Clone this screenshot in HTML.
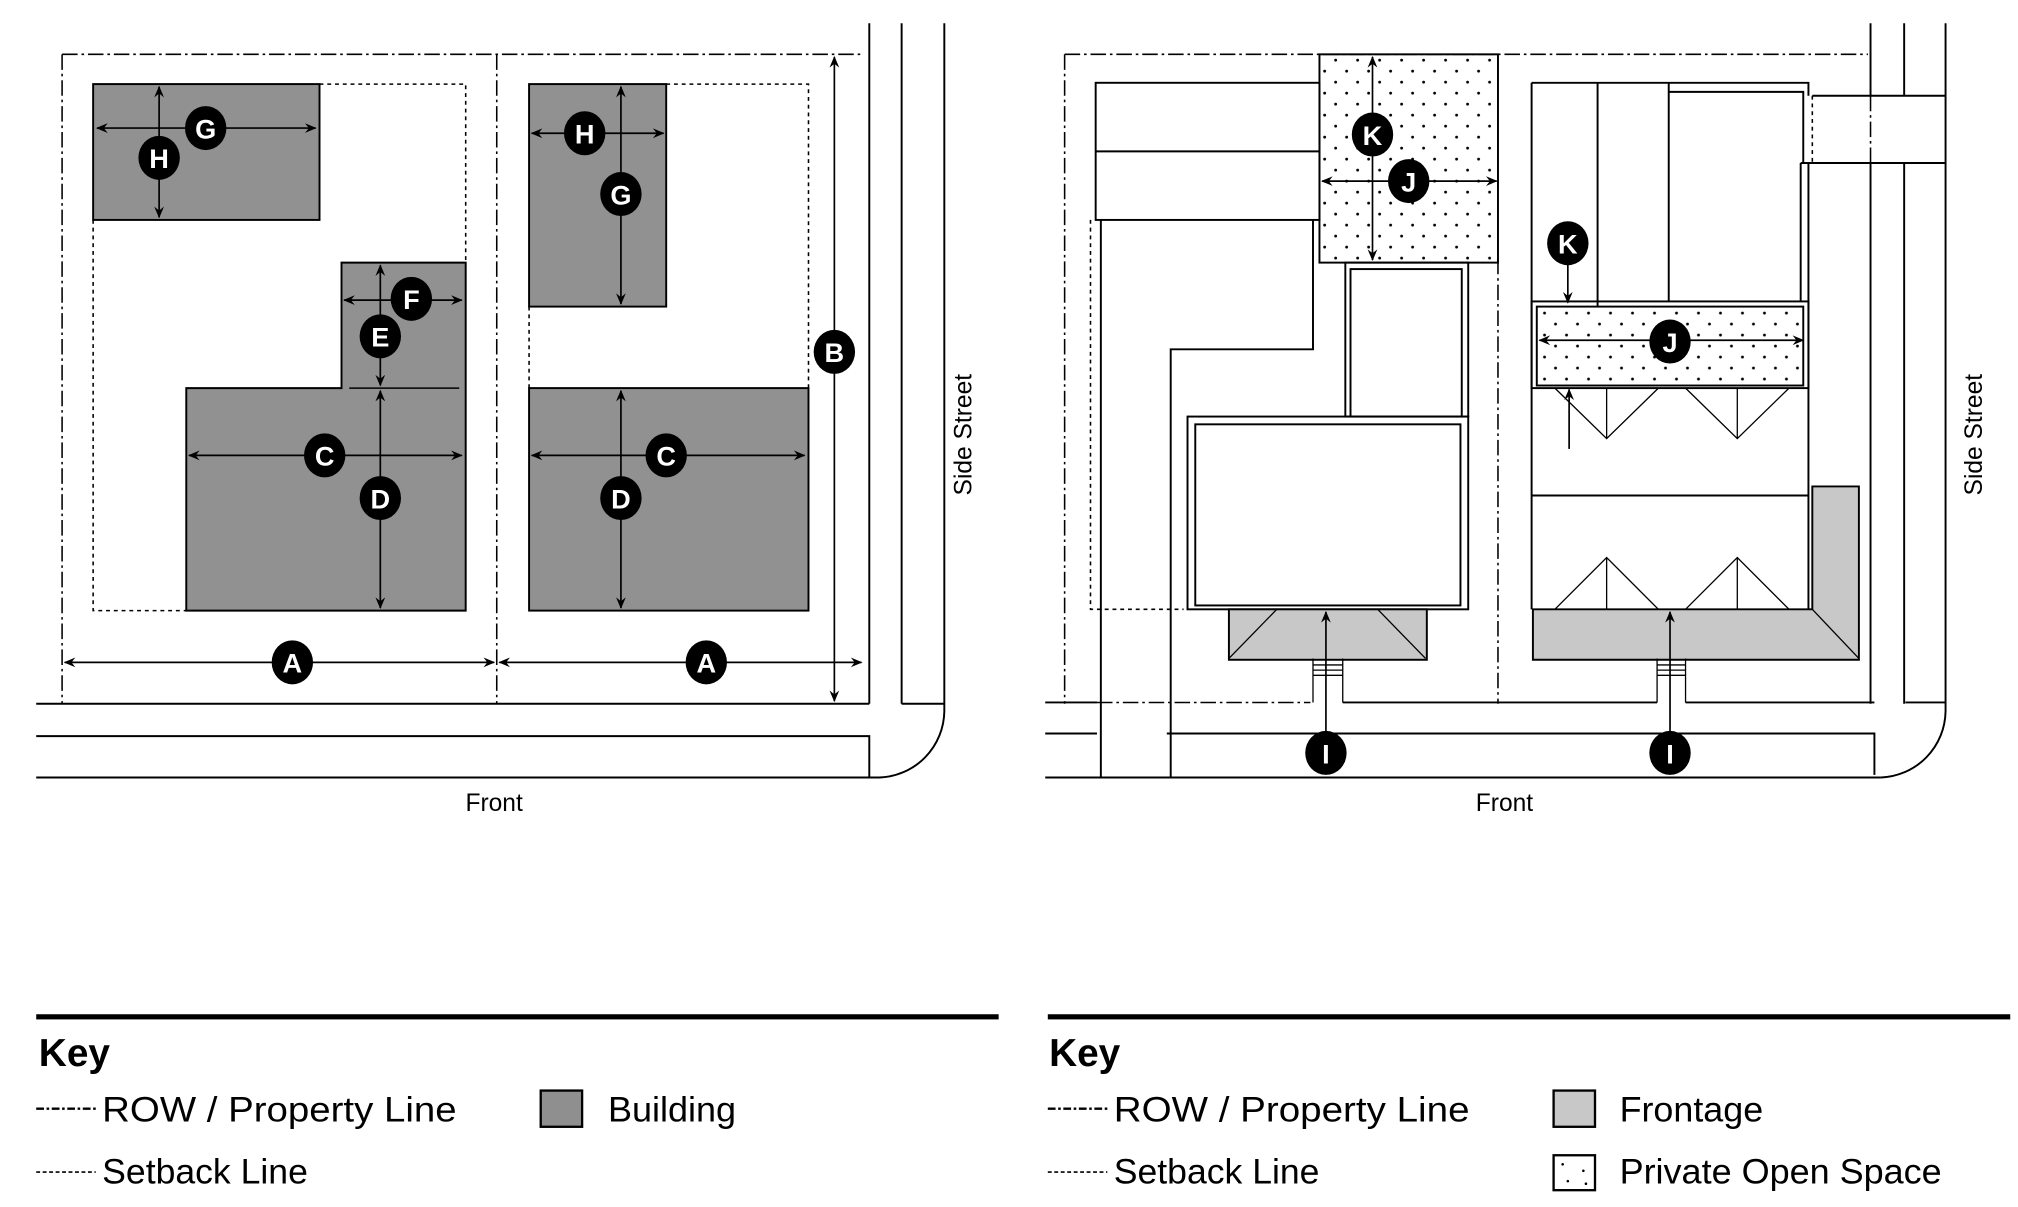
<!DOCTYPE html>
<html><head><meta charset="utf-8"><style>
html,body{margin:0;padding:0;background:#fff;}
svg{display:block;}
text{font-family:"Liberation Sans",sans-serif;}
</style></head><body>
<svg width="2018" height="1207" viewBox="0 0 1560 933" preserveAspectRatio="none" xmlns="http://www.w3.org/2000/svg">
<defs>
<marker id="ah" viewBox="0 0 12 10" refX="11" refY="5" markerWidth="9" markerHeight="8" orient="auto-start-reverse" markerUnits="userSpaceOnUse">
<path d="M0,0 L12,5 L0,10 L4,5 z" fill="#000"/></marker>
<pattern id="dots" width="17" height="17" patternUnits="userSpaceOnUse">
<circle cx="4" cy="4" r="1.1" fill="#000"/><circle cx="12.5" cy="12.5" r="1.1" fill="#000"/></pattern>
</defs>
<g fill="none" stroke="#000" stroke-width="1.5">
<!-- LEFT DIAGRAM -->
<g stroke-dasharray="12 3 2 3" stroke-width="1.2">
<path d="M48,42 H668 M48,42 V544 M384,42 V544"/>
</g>
<path d="M672,18 V544 M697,18 V544 M730,18 V550 A52,52 0 0 1 680,601 M28,544 H672 M697,544 H730 M28,569 H672 V601 M28,601 H680"/>
<g stroke-dasharray="3 3" stroke-width="1.2">
<path d="M247,65 H360 V203 M72,170 V472 H144 M515,65 H625 V300 M409,237 V300"/>
</g>
<g fill="#919191" stroke-width="1.5">
<rect x="72" y="65" width="175" height="105"/>
<path d="M264,203 H360 V472 H144 V300 H264 Z"/>
<rect x="409" y="65" width="106" height="172"/>
<rect x="409" y="300" width="216" height="172"/>
</g>
<path d="M270,300 H355" stroke-width="1.2"/>
<g stroke-width="1.3" marker-start="url(#ah)" marker-end="url(#ah)">
<path d="M75,99 H244"/><path d="M123,67 V168"/>
<path d="M266,232 H357"/><path d="M294,205 V298"/>
<path d="M146,352 H357"/><path d="M294,302 V470"/>
<path d="M411,103 H513"/><path d="M480,67 V235"/>
<path d="M411,352 H622"/><path d="M480,302 V470"/>
<path d="M645,44 V542"/>
<path d="M50,512 H382"/><path d="M386,512 H666"/>
</g>

<!-- RIGHT DIAGRAM -->
<g stroke-dasharray="12 3 2 3" stroke-width="1.2">
<path d="M823,42 H1444 M823,42 V544 M1158,200 V544 M848,543 H1013 M1446,74 V126"/>
</g>
<path d="M1446,18 V74 M1446,126 V544 M1472,18 V74 M1472,126 V544 M1504,18 V550 A52,52 0 0 1 1454,601 M1401,74 H1504 M1392,126 H1504 M1473,543 H1504"/>
<path d="M808,543 H848 M1038,543 H1281 M1303,543 H1449 M808,567 H848 M902,567 H1449 V599 M808,601 H1454"/>
<g stroke-dasharray="3 3" stroke-width="1.2"><path d="M1401,74 V126 M843,170 V471 H915"/></g>
<!-- left building block -->
<rect x="847" y="64" width="173" height="106" fill="#fff"/>
<path d="M847,117 H1020"/>
<path d="M851,170 V601 M1015,170 V270 H905 V601"/>
<rect x="1020" y="42" width="138" height="161" fill="url(#dots)"/>
<rect x="1040" y="203" width="95" height="119"/>
<rect x="1044" y="208" width="86" height="114"/>
<rect x="918" y="322" width="217" height="149"/>
<rect x="924" y="328" width="205" height="140"/>
<rect x="950" y="471" width="153" height="39" fill="#c8c8c8"/>
<path d="M987,471 L950,509 M1065,471 L1102,509" stroke-width="1"/>
<path d="M1015,509 V543 M1038,509 V543 M1015,514 H1038 M1015,518 H1038 M1015,522 H1038" stroke-width="1"/>
<!-- right building -->
<path d="M1184,64 V471 M1184,64 H1290 M1235,64 V237 M1290,64 V233 M1290,64 H1398 V74 M1290,71 H1394 V126 M1392,126 V233 M1398,126 V471 M1184,383 H1398"/>
<rect x="1184" y="233" width="214" height="67"/>
<rect x="1188" y="237" width="206" height="61" fill="url(#dots)"/>
<path d="M1202,300 L1242,339 L1282,300 M1242,300 V339 M1303,300 L1343,339 L1383,300 M1343,300 V339" stroke-width="1"/>
<path d="M1202,471 L1242,431 L1282,471 M1242,431 V471 M1303,471 L1343,431 L1383,471 M1343,431 V471" stroke-width="1"/>
<path d="M1185,471 H1401 V376 H1437 V510 H1185 Z" fill="#c8c8c8"/>
<path d="M1401,471 L1437,509" stroke-width="1"/>
<path d="M1281,509 V543 M1303,509 V543 M1281,514 H1303 M1281,518 H1303 M1281,522 H1303" stroke-width="1"/>
<g stroke-width="1.3" marker-end="url(#ah)">
<path d="M1025,589 V473"/><path d="M1291,589 V473"/>
<path d="M1212,200 V234"/><path d="M1213,347 V301"/>
</g>
<g stroke-width="1.3" marker-start="url(#ah)" marker-end="url(#ah)">
<path d="M1061,44 V201"/><path d="M1022,140 H1157"/>
<path d="M1190,263 H1394"/>
</g>
</g>

<!-- labels -->
<g font-weight="bold" font-size="21" fill="#fff" text-anchor="middle">
<g fill="#000">
<ellipse cx="159" cy="99" rx="16" ry="17"/><ellipse cx="123" cy="122" rx="16" ry="17"/>
<ellipse cx="318" cy="231" rx="16" ry="17"/><ellipse cx="294" cy="260" rx="16" ry="17"/>
<ellipse cx="251" cy="352" rx="16" ry="17"/><ellipse cx="294" cy="385" rx="16" ry="17"/>
<ellipse cx="452" cy="103" rx="16" ry="17"/><ellipse cx="480" cy="150" rx="16" ry="17"/>
<ellipse cx="515" cy="352" rx="16" ry="17"/><ellipse cx="480" cy="385" rx="16" ry="17"/>
<ellipse cx="645" cy="272" rx="16" ry="17"/>
<ellipse cx="226" cy="512" rx="16" ry="17"/><ellipse cx="546" cy="512" rx="16" ry="17"/>
<ellipse cx="1061" cy="104" rx="16" ry="17"/><ellipse cx="1089" cy="140" rx="16" ry="17"/>
<ellipse cx="1212" cy="188" rx="16" ry="17"/><ellipse cx="1291" cy="264" rx="16" ry="17"/>
<ellipse cx="1025" cy="582" rx="16" ry="17"/><ellipse cx="1291" cy="582" rx="16" ry="17"/>
</g>
<text x="159" y="107">G</text><text x="123" y="130">H</text>
<text x="318" y="239">F</text><text x="294" y="268">E</text>
<text x="251" y="360">C</text><text x="294" y="393">D</text>
<text x="452" y="111">H</text><text x="480" y="158">G</text>
<text x="515" y="360">C</text><text x="480" y="393">D</text>
<text x="645" y="280">B</text>
<text x="226" y="520">A</text><text x="546" y="520">A</text>
<text x="1061" y="112">K</text><text x="1089" y="148">J</text>
<text x="1212" y="196">K</text><text x="1291" y="272">J</text>
<text x="1025" y="590">I</text><text x="1291" y="590">I</text>
</g>
<g font-size="19" fill="#000" text-anchor="middle">
<text x="382" y="627">Front</text>
<text x="1163" y="627">Front</text>
<text transform="translate(751,336) rotate(-90)">Side Street</text>
<text transform="translate(1532,336) rotate(-90)">Side Street</text>
</g>

<!-- KEY -->
<rect x="28" y="784" width="744" height="4" fill="#000"/>
<rect x="810" y="784" width="744" height="4" fill="#000"/>
<g fill="#000">
<text x="30" y="824" font-size="30" font-weight="bold">Key</text>
<text x="811" y="824" font-size="30" font-weight="bold">Key</text>
<g font-size="27">
<text x="79" y="867" textLength="274" lengthAdjust="spacingAndGlyphs">ROW / Property Line</text>
<text x="79" y="915" textLength="159" lengthAdjust="spacingAndGlyphs">Setback Line</text>
<text x="470" y="867" textLength="99" lengthAdjust="spacingAndGlyphs">Building</text>
<text x="861" y="867" textLength="275" lengthAdjust="spacingAndGlyphs">ROW / Property Line</text>
<text x="861" y="915" textLength="159" lengthAdjust="spacingAndGlyphs">Setback Line</text>
<text x="1252" y="867" textLength="111" lengthAdjust="spacingAndGlyphs">Frontage</text>
<text x="1252" y="915" textLength="249" lengthAdjust="spacingAndGlyphs">Private Open Space</text>
</g>
</g>
<g fill="none" stroke="#000" stroke-width="1.8">
<path d="M28,857 H74" stroke-dasharray="6 2 2 2"/>
<path d="M810,857 H856" stroke-dasharray="6 2 2 2"/>
<path d="M28,906 H74" stroke-dasharray="3 2" stroke-width="1.3"/>
<path d="M810,906 H856" stroke-dasharray="3 2" stroke-width="1.3"/>
<rect x="418" y="843" width="32" height="28" fill="#8f8f8f"/>
<rect x="1201" y="843" width="32" height="28" fill="#c8c8c8"/>
<rect x="1201" y="893" width="32" height="27" fill="#fff"/>
</g>
<g fill="#000"><circle cx="1208" cy="900" r="1"/><circle cx="1224" cy="905" r="1"/><circle cx="1212" cy="913" r="1"/><circle cx="1226" cy="915" r="1"/></g>
</svg>
</body></html>
